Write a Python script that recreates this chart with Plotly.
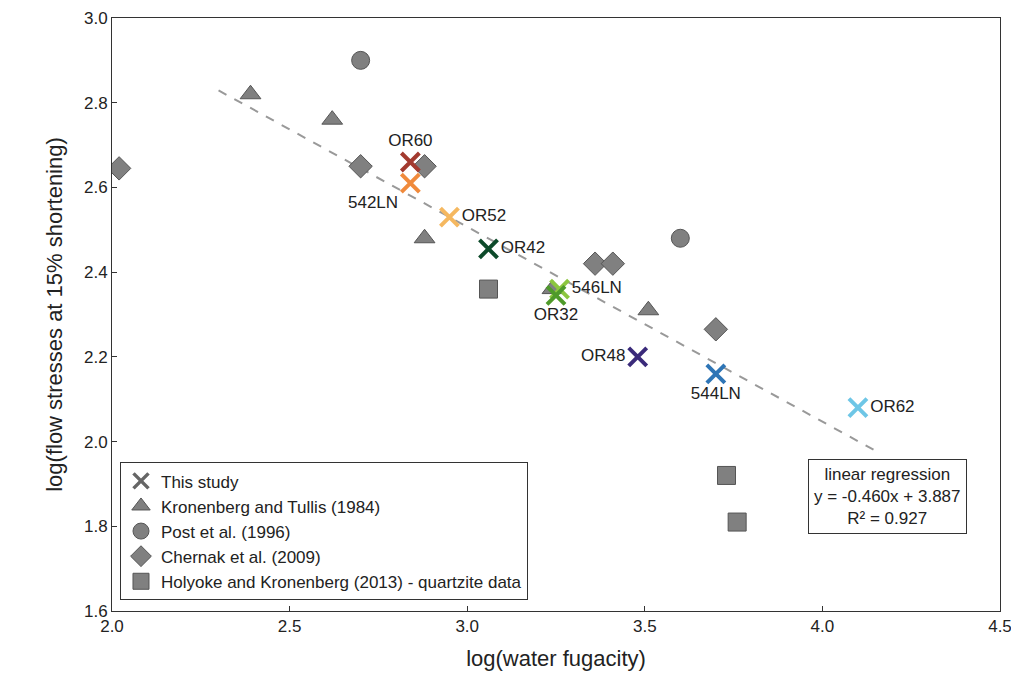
import plotly.graph_objects as go

tri_x = [2.39, 2.62, 2.88, 3.24, 3.51]
tri_y = [2.82, 2.76, 2.48, 2.36, 2.31]
cir_x = [2.70, 3.60]
cir_y = [2.90, 2.48]
dia_x = [2.02, 2.70, 2.88, 3.36, 3.41, 3.70]
dia_y = [2.645, 2.65, 2.65, 2.42, 2.42, 2.265]
sq_x = [3.06, 3.73, 3.76]
sq_y = [2.36, 1.92, 1.81]
st_names = ["OR60", "542LN", "OR52", "OR42", "546LN", "OR32", "OR48", "544LN", "OR62"]
st_x = [2.84, 2.84, 2.95, 3.06, 3.26, 3.25, 3.48, 3.70, 4.10]
st_y = [2.66, 2.61, 2.53, 2.455, 2.36, 2.345, 2.20, 2.16, 2.08]
st_col = ["#a33a2f", "#f08a3c", "#f5b860", "#0d4a2a", "#8cc63f", "#4e9a2a", "#3a2a7a", "#2e75b6", "#6ec6e6"]
st_pos = ["top center", "bottom left", "middle right", "middle right", "middle right",
          "bottom center", "middle left", "bottom center", "middle right"]
reg_x = [2.3, 4.15]
slope, icpt = -0.460, 3.887

fig = go.Figure()
G = "#808080"
mk = dict(color=G, size=18, line=dict(color="#555", width=1))
fig.add_trace(go.Scatter(x=reg_x, y=[slope*v+icpt for v in reg_x], mode="lines",
                         line=dict(color="#999", dash="dash", width=2), showlegend=False))
fig.add_trace(go.Scatter(x=[None], y=[None], mode="markers", name="This study",
                         marker=dict(symbol="x-thin", size=15, color="#666", line=dict(color="#666", width=3.5))))
fig.add_trace(go.Scatter(x=tri_x, y=tri_y, mode="markers", name="Kronenberg and Tullis (1984)", marker=dict(symbol="triangle-up", **mk)))
fig.add_trace(go.Scatter(x=cir_x, y=cir_y, mode="markers", name="Post et al. (1996)", marker=dict(symbol="circle", **mk)))
fig.add_trace(go.Scatter(x=dia_x, y=dia_y, mode="markers", name="Chernak et al. (2009)", marker=dict(symbol="diamond", **mk)))
fig.add_trace(go.Scatter(x=sq_x, y=sq_y, mode="markers", name="Holyoke and Kronenberg (2013) - quartzite data", marker=dict(symbol="square", **mk)))
for n, x, y, c, p in zip(st_names, st_x, st_y, st_col, st_pos):
    fig.add_trace(go.Scatter(x=[x], y=[y], mode="markers+text", text=[n], textposition=p,
                             textfont=dict(size=17, color="#222"),
                             marker=dict(symbol="x-thin", size=18, color=c, line=dict(color=c, width=4)),
                             showlegend=False))
fig.add_annotation(x=0.873, y=0.193, xref="paper", yref="paper", showarrow=False,
                   xanchor="center", yanchor="middle",
                   text="linear regression<br>y = -0.460x + 3.887<br>R² = 0.927",
                   font=dict(size=17, color="#222"), bordercolor="#333", borderwidth=1,
                   bgcolor="white", borderpad=5)
fig.update_layout(width=1019, height=689, plot_bgcolor="white", paper_bgcolor="white",
                  margin=dict(l=104, r=27, t=10, b=86, autoexpand=False),
                  font=dict(family="Arial, Liberation Sans", size=17, color="#222"),
                  legend=dict(x=0.009, y=0.018, xanchor="left", yanchor="bottom", bordercolor="#333",
                              borderwidth=1, bgcolor="white", font=dict(size=17), tracegroupgap=0,
                              itemwidth=30))
ax = dict(showline=True, mirror=True, linecolor="#333", linewidth=1, showgrid=False,
          ticks="inside", tickcolor="#333", zeroline=False, tickfont=dict(size=17))
fig.update_xaxes(range=[2.0, 4.5], dtick=0.5, tickformat=".1f",
                 title=dict(text="log(water fugacity)", font=dict(size=22)), **ax)
fig.update_yaxes(range=[1.6, 3.0], dtick=0.2, tickformat=".1f",
                 title=dict(text="log(flow stresses at 15% shortening)", font=dict(size=22)), **ax)
fig.write_html("out.html")
